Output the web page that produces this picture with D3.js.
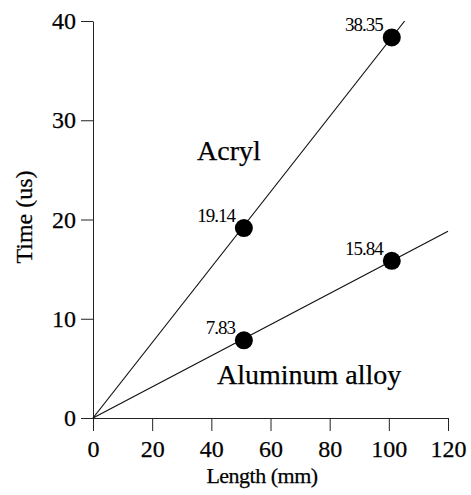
<!DOCTYPE html>
<html>
<head>
<meta charset="utf-8">
<script src="https://cdn.jsdelivr.net/npm/d3@7"></script>
<style>
  body { margin: 0; background: #fff; }
  svg text { font-family: "Liberation Serif", "DejaVu Serif", serif; fill: #000; stroke: #000; stroke-width: 0.25; }
  .axis path, .axis line { stroke: #222; stroke-width: 1; }
  .axis text { font-size: 24px; }
</style>
</head>
<body>
<div class="chart"></div>
<script>
var lengths = [51, 101];
var acryl = [19.14, 38.35];
var aluminum = [7.83, 15.84];
var seriesNames = ["Acryl", "Aluminum alloy"];
var xTicks = [0, 20, 40, 60, 80, 100, 120];
var yTicks = [0, 10, 20, 30, 40];

(function() {
  'use strict';

  var width = 471;
  var height = 495;

  var svg = d3.select(".chart").append("svg")
    .attr("width", width)
    .attr("height", height);

  var x = d3.scaleLinear().domain([0, 120]).range([93, 448]);
  var y = d3.scaleLinear().domain([0, 40]).range([418, 21]);

  svg.append("g")
    .attr("class", "axis")
    .attr("transform", "translate(0," + y(0) + ")")
    .call(d3.axisBottom(x).tickValues(xTicks).tickSize(13).tickSizeOuter(0).tickPadding(9));

  svg.append("g")
    .attr("class", "axis")
    .attr("transform", "translate(" + x(0) + ",0)")
    .call(d3.axisLeft(y).tickValues(yTicks).tickSize(12).tickSizeOuter(0).tickPadding(5));

  svg.selectAll(".axis").attr("font-family", null);

  // axis titles
  svg.append("text")
    .attr("x", 262)
    .attr("y", 483)
    .attr("text-anchor", "middle")
    .attr("font-size", 22)
    .attr("letter-spacing", -0.5)
    .text("Length (mm)");

  svg.append("text")
    .attr("transform", "translate(32,217) rotate(-90)")
    .attr("text-anchor", "middle")
    .attr("font-size", 24)
    .text("Time (us)");

  var series = [
    { name: seriesNames[0], values: acryl, lx: 197, ly: 160 },
    { name: seriesNames[1], values: aluminum, lx: 217, ly: 384 }
  ];

  series.forEach(function(s) {
    // fitted line through origin, extended to the edge of the plot box
    var slope = s.values[s.values.length - 1] / lengths[lengths.length - 1];
    var xEnd = Math.min(x.domain()[1], y.domain()[1] / slope);

    svg.append("line")
      .attr("x1", x(0))
      .attr("y1", y(0))
      .attr("x2", x(xEnd))
      .attr("y2", y(slope * xEnd))
      .attr("stroke", "#111")
      .attr("stroke-width", 1.2);

    var pts = lengths.map(function(l, i) { return { l: l, v: s.values[i] }; });

    svg.selectAll(null)
      .data(pts)
      .enter().append("circle")
      .attr("cx", function(d) { return x(d.l); })
      .attr("cy", function(d) { return y(d.v); })
      .attr("r", 9)
      .attr("fill", "#000");

    svg.selectAll(null)
      .data(pts)
      .enter().append("text")
      .attr("x", function(d) { return x(d.l) - 9; })
      .attr("y", function(d) { return y(d.v) - 6; })
      .attr("text-anchor", "end")
      .attr("font-size", 19)
      .attr("letter-spacing", -1)
      .style("stroke-width", 0)
      .text(function(d) { return d.v.toFixed(2); });

    svg.append("text")
      .attr("x", s.lx)
      .attr("y", s.ly)
      .attr("font-size", 28)
      .text(s.name);
  });

})();
</script>
</body>
</html>
